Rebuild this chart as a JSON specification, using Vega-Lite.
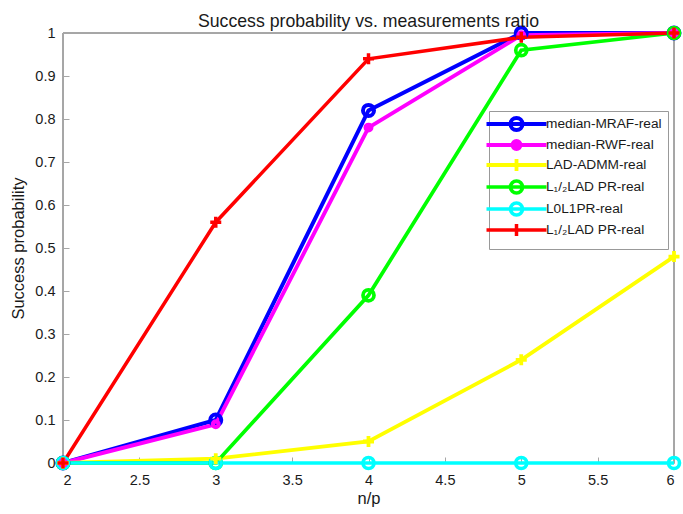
{
  "$schema": "https://vega.github.io/schema/vega-lite/v6.json",
  "width": 611,
  "height": 430,
  "autosize": {"type": "none"},
  "padding": {"left": 63, "top": 33, "right": 9, "bottom": 51},
  "background": "white",
  "title": {
    "text": "Success probability vs. measurements ratio",
    "font": "Liberation Sans",
    "fontSize": 17.7,
    "fontWeight": "normal",
    "color": "#1a1a1a",
    "anchor": "middle",
    "frame": "group",
    "offset": -11
  },
  "data": {
    "values": [
      {"x": 2, "y": 0, "s": "median-MRAF-real"},
      {"x": 3, "y": 0.10, "s": "median-MRAF-real"},
      {"x": 4, "y": 0.82, "s": "median-MRAF-real"},
      {"x": 5, "y": 1.0, "s": "median-MRAF-real"},
      {"x": 6, "y": 1.0, "s": "median-MRAF-real"},
      {"x": 2, "y": 0, "s": "median-RWF-real"},
      {"x": 3, "y": 0.09, "s": "median-RWF-real"},
      {"x": 4, "y": 0.78, "s": "median-RWF-real"},
      {"x": 5, "y": 0.995, "s": "median-RWF-real"},
      {"x": 6, "y": 1.0, "s": "median-RWF-real"},
      {"x": 2, "y": 0, "s": "LAD-ADMM-real"},
      {"x": 3, "y": 0.01, "s": "LAD-ADMM-real"},
      {"x": 4, "y": 0.05, "s": "LAD-ADMM-real"},
      {"x": 5, "y": 0.24, "s": "LAD-ADMM-real"},
      {"x": 6, "y": 0.48, "s": "LAD-ADMM-real"},
      {"x": 2, "y": 0, "s": "L1/2LAD PR-real (green)"},
      {"x": 3, "y": 0, "s": "L1/2LAD PR-real (green)"},
      {"x": 4, "y": 0.39, "s": "L1/2LAD PR-real (green)"},
      {"x": 5, "y": 0.96, "s": "L1/2LAD PR-real (green)"},
      {"x": 6, "y": 1.0, "s": "L1/2LAD PR-real (green)"},
      {"x": 2, "y": 0, "s": "L0L1PR-real"},
      {"x": 3, "y": 0, "s": "L0L1PR-real"},
      {"x": 4, "y": 0, "s": "L0L1PR-real"},
      {"x": 5, "y": 0, "s": "L0L1PR-real"},
      {"x": 6, "y": 0, "s": "L0L1PR-real"},
      {"x": 2, "y": 0, "s": "L1/2LAD PR-real (red)"},
      {"x": 3, "y": 0.56, "s": "L1/2LAD PR-real (red)"},
      {"x": 4, "y": 0.94, "s": "L1/2LAD PR-real (red)"},
      {"x": 5, "y": 0.99, "s": "L1/2LAD PR-real (red)"},
      {"x": 6, "y": 1.0, "s": "L1/2LAD PR-real (red)"}
    ]
  },
  "encoding": {
    "x": {
      "field": "x", "type": "quantitative",
      "scale": {"domain": [2, 6], "nice": false, "zero": false},
      "axis": {"title": "n/p", "format": "~g", "values": [2, 2.5, 3, 3.5, 4, 4.5, 5, 5.5, 6], "tickSize": -6, "labelPadding": 16, "titlePadding": 4}
    },
    "y": {
      "field": "y", "type": "quantitative",
      "scale": {"domain": [0, 1], "nice": false, "zero": false},
      "axis": {"title": "Success probability", "format": "~g", "values": [0, 0.1, 0.2, 0.3, 0.4, 0.5, 0.6, 0.7, 0.8, 0.9, 1], "tickSize": -6, "labelPadding": 14, "titlePadding": 8}
    }
  },
  "layer": [
    {
      "mark": {"type": "rect", "fill": null, "stroke": "#a6a6a6", "strokeWidth": 1},
      "encoding": {
        "x": {"datum": 2, "type": "quantitative"},
        "x2": {"datum": 6},
        "y": {"datum": 0, "type": "quantitative"},
        "y2": {"datum": 1}
      }
    },
    {
      "mark": {"type": "line"},
      "encoding": {
        "color": {
          "field": "s", "type": "nominal",
          "scale": {
            "domain": ["median-MRAF-real", "median-RWF-real", "LAD-ADMM-real", "L1/2LAD PR-real (green)", "L0L1PR-real", "L1/2LAD PR-real (red)"],
            "range": ["#0000ff", "#ff00ff", "#ffff00", "#00ff00", "#00ffff", "#ff0000"]
          },
          "legend": {
            "orient": "none", "legendX": 426, "legendY": 78, "title": null,
            "fillColor": "white", "strokeColor": "#999999", "padding": 6,
            "symbolSize": 100, "symbolStrokeWidth": 3, "symbolOpacity": 1,
            "symbolOffset": 14.5, "labelOffset": 22.5, "rowPadding": -6,
            "labelFont": "Liberation Sans", "labelFontSize": 13.7, "labelColor": "#1a1a1a", "labelLimit": 300,
            "labelExpr": "indexof(datum.label, 'L1/2') === 0 ? 'L₁/₂LAD PR-real' : datum.label"
          }
        },
        "strokeWidth": {
          "field": "s", "type": "nominal",
          "scale": {
            "domain": ["median-MRAF-real", "median-RWF-real", "LAD-ADMM-real", "L1/2LAD PR-real (green)", "L0L1PR-real", "L1/2LAD PR-real (red)"],
            "range": [4, 3.5, 3, 3, 3, 3]
          },
          "legend": null
        }
      }
    },
    {
      "transform": [{"filter": {"field": "s", "oneOf": ["median-MRAF-real", "L1/2LAD PR-real (green)", "L0L1PR-real"]}}],
      "mark": {"type": "point", "shape": "circle", "size": 121, "filled": false, "opacity": 1},
      "encoding": {
        "color": {"field": "s", "type": "nominal"},
        "strokeWidth": {"field": "s", "type": "nominal", "legend": null}
      }
    },
    {
      "transform": [{"filter": {"field": "s", "equal": "median-RWF-real"}}],
      "mark": {"type": "point", "shape": "M-1,0A1,1 0 1,0 1,0A1,1 0 1,0 -1,0ZM-0.4,0A0.4,0.4 0 1,0 0.4,0A0.4,0.4 0 1,0 -0.4,0Z", "size": 36, "filled": false, "opacity": 1},
      "encoding": {
        "color": {"field": "s", "type": "nominal"},
        "strokeWidth": {"field": "s", "type": "nominal", "legend": null}
      }
    },
    {
      "transform": [{"filter": {"field": "s", "oneOf": ["LAD-ADMM-real", "L1/2LAD PR-real (red)"]}}],
      "mark": {"type": "point", "shape": "M-1,0H1M0,-1V1", "size": 121, "filled": false, "opacity": 1},
      "encoding": {
        "color": {"field": "s", "type": "nominal"},
        "strokeWidth": {"field": "s", "type": "nominal", "legend": null}
      }
    },
    {
      "mark": {"type": "point", "filled": false, "opacity": 0},
      "encoding": {
        "color": {"field": "s", "type": "nominal"},
        "shape": {
          "field": "s", "type": "nominal",
          "scale": {
            "domain": ["median-MRAF-real", "median-RWF-real", "LAD-ADMM-real", "L1/2LAD PR-real (green)", "L0L1PR-real", "L1/2LAD PR-real (red)"],
            "range": [
              "M-6,0H6M-1.2,0A1.2,1.2 0 1,0 1.2,0A1.2,1.2 0 1,0 -1.2,0Z",
              "M-6,0H6M-0.8,0A0.8,0.8 0 1,0 0.8,0A0.8,0.8 0 1,0 -0.8,0ZM-0.35,0A0.35,0.35 0 1,0 0.35,0A0.35,0.35 0 1,0 -0.35,0Z",
              "M-6,0H6M0,-1.2V1.2",
              "M-6,0H6M-1.2,0A1.2,1.2 0 1,0 1.2,0A1.2,1.2 0 1,0 -1.2,0Z",
              "M-6,0H6M-1.2,0A1.2,1.2 0 1,0 1.2,0A1.2,1.2 0 1,0 -1.2,0Z",
              "M-6,0H6M0,-1.2V1.2"
            ]
          },
          "legend": {
            "orient": "none", "legendX": 426, "legendY": 78, "title": null,
            "fillColor": "white", "strokeColor": "#999999", "padding": 6,
            "symbolSize": 100, "symbolStrokeWidth": 3, "symbolOpacity": 1,
            "symbolOffset": 14.5, "labelOffset": 22.5, "rowPadding": -6,
            "labelFont": "Liberation Sans", "labelFontSize": 13.7, "labelColor": "#1a1a1a", "labelLimit": 300,
            "labelExpr": "indexof(datum.label, 'L1/2') === 0 ? 'L₁/₂LAD PR-real' : datum.label"
          }
        }
      }
    }
  ],
  "config": {
    "view": {"stroke": null},
    "axis": {
      "grid": false,
      "domainColor": "#a6a6a6",
      "tickColor": "#a6a6a6",
      "domainWidth": 1,
      "tickWidth": 1,
      "labelFont": "Liberation Sans",
      "labelFontSize": 14.5,
      "labelColor": "#1a1a1a",
      "titleFont": "Liberation Sans",
      "titleFontSize": 16.5,
      "titleFontWeight": "normal",
      "titleColor": "#1a1a1a"
    }
  }
}
